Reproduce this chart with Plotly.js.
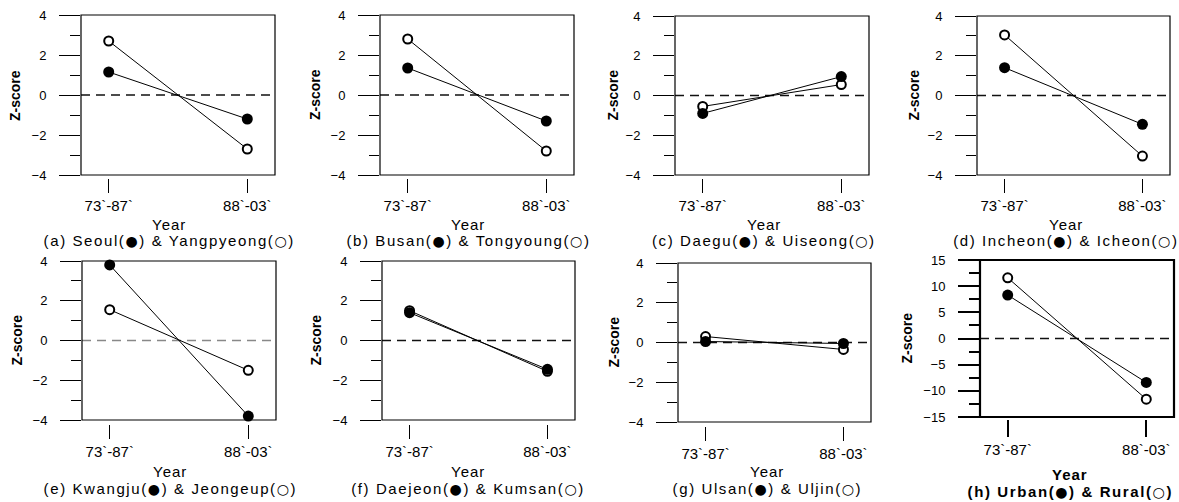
<!DOCTYPE html>
<html>
<head>
<meta charset="utf-8">
<script src="https://cdn.plot.ly/plotly-3.0.1.min.js"></script>
<style>
html,body{margin:0;padding:0;background:#fff;}
#chart{width:1179px;height:502px;}
</style>
</head>
<body>
<div id="chart"></div>
<script>
// ---- data ----
const periods = ["73`-87`", "88`-03`"];
const seoul      = [1.15, -1.2];
const yangpyeong = [2.7, -2.7];
const busan      = [1.35, -1.3];
const tongyoung  = [2.8, -2.8];
const daegu      = [-0.9, 0.95];
const uiseong    = [-0.55, 0.55];
const incheon    = [1.4, -1.45];
const icheon     = [3.05, -3.05];
const kwangju    = [3.8, -3.8];
const jeongeup   = [1.55, -1.5];
const daejeon    = [1.4, -1.45];
const kumsan     = [1.5, -1.55];
const ulsan      = [0.05, -0.05];
const uljin      = [0.3, -0.35];
const urban      = [8.3, -8.4];
const rural      = [11.6, -11.6];

const placeNames = [
  ["(a) Seoul", "Yangpyeong"],
  ["(b) Busan", "Tongyoung"],
  ["(c) Daegu", "Uiseong"],
  ["(d) Incheon", "Icheon"],
  ["(e) Kwangju", "Jeongeup"],
  ["(f) Daejeon", "Kumsan"],
  ["(g) Ulsan", "Uljin"],
  ["(h) Urban", "Rural"]
];
const filledSeries = [seoul, busan, daegu, incheon, kwangju, daejeon, ulsan, urban];
const openSeries   = [yangpyeong, tongyoung, uiseong, icheon, jeongeup, kumsan, uljin, rural];
const yTitle = "Z-score";
const xTitle = "Year";

// ---- layout geometry (pixels) ----
const W = 1179, H = 502;
const panels = [
  {L:81,  R:275,  T:15,  B:175, tk:178, tl:14, yt:15,  cx:169,  yy:224, cy:240, yr:[-4,4], d:2, m:1},
  {L:380, R:574,  T:15,  B:175, tk:178, tl:14, yt:315, cx:468,  yy:224, cy:240, yr:[-4,4], d:2, m:1},
  {L:675, R:869,  T:16,  B:175, tk:178, tl:14, yt:612, cx:764,  yy:224, cy:240, yr:[-4,4], d:2, m:1},
  {L:977, R:1170, T:16,  B:175, tk:178, tl:14, yt:913, cx:1066, yy:224, cy:240, yr:[-4,4], d:2, m:1},
  {L:82,  R:276,  T:261, B:420, tk:424, tl:14, yt:16,  cx:170,  yy:471, cy:488, yr:[-4,4], d:2, m:1, zc:'#888'},
  {L:382, R:575,  T:261, B:420, tk:424, tl:14, yt:315, cx:468,  yy:471, cy:488, yr:[-4,4], d:2, m:1},
  {L:678, R:871,  T:263, B:422, tk:426, tl:14, yt:613, cx:767,  yy:471, cy:488, yr:[-4,4], d:2, m:1},
  {L:980, R:1174, T:260, B:417, tk:419, tl:17, yt:906, cx:1070, yy:474, cy:491, yr:[-15,15], d:5, m:2.5, bold:true}
];

const FONT = "Liberation Sans, Arial, Helvetica, sans-serif";
const SYM = '<span style="font-family:DejaVu Sans;font-size:14px">';
const traces = [];
const layout = {
  width: W, height: H, autosize: false,
  margin: {l:0, r:0, t:0, b:0, pad:0},
  paper_bgcolor: '#fff', plot_bgcolor: '#fff',
  showlegend: false,
  font: {family: FONT, color: '#000', size: 13},
  shapes: [], annotations: []
};

panels.forEach((p, i) => {
  const n = i + 1;
  const xa = 'x' + (n === 1 ? '' : n), ya = 'y' + (n === 1 ? '' : n);
  const xk = 'xaxis' + (n === 1 ? '' : n), yk = 'yaxis' + (n === 1 ? '' : n);
  const lw = p.bold ? 2 : 1;
  layout[xk] = {
    domain: [p.L / W, p.R / W],
    anchor: 'free', position: 1 - p.tk / H,
    type: 'category', range: [-0.2, 1.2],
    showline: false, showgrid: false, zeroline: false,
    ticks: 'outside', ticklen: p.tl, tickwidth: lw, tickcolor: '#000',
    tickfont: {size: 15, family: FONT}, fixedrange: true
  };
  layout[yk] = {
    domain: [1 - p.B / H, 1 - p.T / H],
    anchor: xa, range: p.yr,
    showline: false, showgrid: false, zeroline: false,
    tick0: 0, dtick: p.d,
    ticks: 'outside', ticklen: 21, tickwidth: lw, tickcolor: '#000',
    ticklabelstandoff: 10,
    minor: {dtick: p.m, tick0: 0, ticks: 'outside', ticklen: 10, tickwidth: lw, tickcolor: '#000', showgrid: false},
    tickfont: {size: 13, family: FONT}, fixedrange: true
  };
  // frame
  layout.shapes.push({type:'rect', xref: xa + ' domain', yref: ya + ' domain',
    x0:0, x1:1, y0:0, y1:1, line:{color:'#000', width: p.bold ? 2.2 : 1.2}, layer:'above'});
  // zero dashed line
  layout.shapes.push({type:'line', xref: xa + ' domain', yref: ya,
    x0:0, x1:1, y0:0, y1:0, line:{color: p.zc || '#111', width:1.3, dash:'9px,6px'}, layer:'below'});
  // texts
  layout.annotations.push({xref:'paper', yref:'paper', x: p.yt / W, y: 1 - (p.T + p.B) / 2 / H,
    text: '<b>' + yTitle + '</b>', textangle: -90, showarrow:false, xanchor:'center', yanchor:'middle',
    font:{size:14, family: FONT, color:'#000'}});
  layout.annotations.push({xref:'paper', yref:'paper', x: p.cx / W, y: 1 - p.yy / H,
    text: p.bold ? '<b>' + xTitle + '</b>' : xTitle, showarrow:false, xanchor:'center', yanchor:'middle',
    font:{size:15, family: FONT, color:'#000'}});
  const nm = placeNames[i];
  let cap = nm[0] + '(' + SYM + '●</span>) & ' + nm[1] + '(' + SYM + '○</span>)';
  if (p.bold) cap = '<b>' + cap + '</b>';
  layout.annotations.push({xref:'paper', yref:'paper', x: p.cx / W, y: 1 - p.cy / H,
    text: cap, showarrow:false, xanchor:'center', yanchor:'middle',
    font:{size:15, family: FONT, color:'#000'}});

  traces.push({x: periods, y: openSeries[i], xaxis: xa, yaxis: ya, type:'scatter', mode:'lines+markers',
    line:{color:'#000', width:1}, marker:{symbol:'circle', size:9, color:'#fff', line:{color:'#000', width:2}},
    hoverinfo:'skip', cliponaxis:false});
  traces.push({x: periods, y: filledSeries[i], xaxis: xa, yaxis: ya, type:'scatter', mode:'lines+markers',
    line:{color:'#000', width:1}, marker:{symbol:'circle', size:11, color:'#000'},
    hoverinfo:'skip', cliponaxis:false});
});

Plotly.newPlot('chart', traces, layout, {staticPlot:true, displayModeBar:false}).then(() => {
  document.querySelectorAll('.annotation-text').forEach(t => {
    const s = t.textContent;
    if (s.startsWith('(')) t.style.letterSpacing = '1.6px';
    else if (s === xTitle) t.style.letterSpacing = '1px';
  });
});
</script>
</body>
</html>
